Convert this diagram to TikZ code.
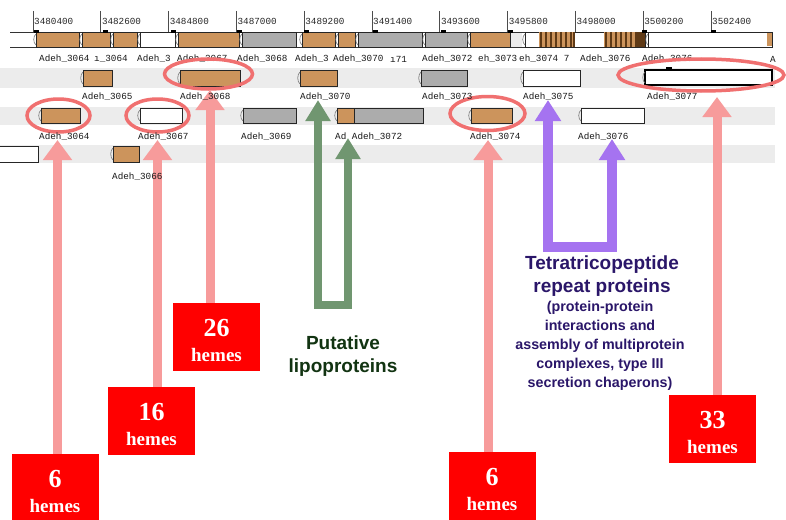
\documentclass[tikz,border=0pt]{standalone}
\usepackage{fontspec}
\setmainfont{Liberation Sans}
\newfontfamily\monof{Liberation Mono}
\newfontfamily\hfont{Liberation Serif}
\usetikzlibrary{arrows.meta,shapes.geometric}
\definecolor{genetan}{RGB}{204,148,92}
\definecolor{genegray}{RGB}{172,172,172}
\definecolor{bandgray}{RGB}{236,236,236}
\definecolor{ringred}{RGB}{240,112,112}
\definecolor{arrred}{RGB}{247,155,155}
\definecolor{boxred}{RGB}{255,0,0}
\definecolor{lipogreen}{RGB}{112,150,112}
\definecolor{tprpurple}{RGB}{165,115,240}
\definecolor{lipotext}{RGB}{18,52,18}
\definecolor{tprtext}{RGB}{42,22,105}
\definecolor{stripecol}{RGB}{95,58,22}
% gene: x1 x2 y1 y2 fill
\newcommand\gn[5]{%
  \filldraw[fill=#5,draw=black!85,line width=0.7pt] ({#1+3},#3) rectangle (#2,#4);
  \draw[black!55,line width=0.6pt] ({#1+3},{#3+2}) .. controls (#1,{#3+4}) and (#1,{#4-4}) .. ({#1+3},{#4-2});}
\newcommand\stripes[3]{% x1 x2 stripe positions
  \fill[genetan] (#1,32) rectangle (#2,47);
  \foreach \s in {#3}{\draw[stripecol,line width=1.1pt] (\s,32) -- (\s,47);}}
\begin{document}
\begin{tikzpicture}[x=1pt,y=-1pt,
  lbl/.style={font=\monof\fontsize{9.3}{10}\selectfont,text=black!90,inner sep=0pt,anchor=west},
  rul/.style={font=\monof\fontsize{9.3}{10}\selectfont,text=black!85,inner sep=0pt,anchor=west},
  ring/.style={ellipse,draw=ringred,line width=3.5pt,inner sep=0pt},
  redarr/.style={draw=arrred,line width=9pt,-{Triangle[width=28pt,length=20pt]}},
  greenarr/.style={draw=lipogreen,line width=8.5pt,line join=miter,{Triangle[width=24pt,length=21pt]}-{Triangle[width=24pt,length=21pt]}},
  purparr/.style={draw=tprpurple,line width=9.5pt,line join=miter,{Triangle[width=25pt,length=21pt]}-{Triangle[width=25pt,length=21pt]}},
  hemebox/.style={fill=boxred,minimum width=87pt,minimum height=68pt,inner sep=0pt},
  hnum/.style={font=\hfont\bfseries\fontsize{26}{26}\selectfont,text=white,inner sep=0pt},
  hword/.style={font=\hfont\bfseries\fontsize{19}{19}\selectfont,text=white,inner sep=0pt},
  lipotxt/.style={font=\bfseries\fontsize{19}{23}\selectfont,text=lipotext,align=center,inner sep=0pt},
  tprtitle/.style={font=\bfseries\fontsize{19}{23}\selectfont,text=tprtext,align=center,inner sep=0pt},
  tprsub/.style={font=\bfseries\fontsize{14.3}{19}\selectfont,text=tprtext,align=center,inner sep=0pt}]
\useasboundingbox (0,0) rectangle (786,519);
\fill[white] (0,0) rectangle (786,519);
% bands
\fill[bandgray] (0,68) rectangle (775,88);
\fill[bandgray] (0,107) rectangle (775,125);
\fill[bandgray] (0,145) rectangle (775,163);
% ruler
\foreach \i/\t in {0/3480400,1/3482600,2/3484800,3/3487000,4/3489200,5/3491400,6/3493600,7/3495800,8/3498000,9/3500200,10/3502400}{
  \pgfmathsetmacro\xx{33+67.8*\i}
  \draw[black!70,line width=0.7pt] (\xx,11) -- (\xx,32);
  \node[rul] (tick\i) at (\xx+1,21) {\t};
}
% top track
\fill[white] (10,32) rectangle (772,47);
\fill[bandgray] (508,32) rectangle (522,47);
\draw[black!80,line width=0.7pt] (10,32) -- (772,32) (10,47) -- (772,47);
\gn{33}{79}{32}{47}{genetan}
\gn{79}{110}{32}{47}{genetan}
\gn{110}{137}{32}{47}{genetan}
\gn{137}{175}{32}{47}{white}
\gn{175}{239}{32}{47}{genetan}
\gn{239}{296}{32}{47}{genegray}
\gn{299}{335}{32}{47}{genetan}
\gn{335}{355}{32}{47}{genetan}
\gn{355}{422}{32}{47}{genegray}
\gn{422}{467}{32}{47}{genegray}
\gn{467}{510}{32}{47}{genetan}
\gn{522}{645}{32}{47}{white}
\stripes{539}{575}{541,546,551,556,561,566,571,574}
\stripes{604}{637}{606,611,616,621,626,631,636}
\fill[stripecol] (637,32) rectangle (645,47);
\gn{645}{772}{32}{47}{white}
\fill[genetan] (767,33) rectangle (772,46);
\foreach \m in {34,103,171,237,304,373,441,508,642,711}{\fill[black] (\m,30.5) rectangle (\m+5,33);}
% row 1 labels
\node[lbl] (l1a) at (39,59) {Adeh\_3064};
\node[lbl] (l1b) at (94,59) {ı\_3064};
\node[lbl] (l1c) at (137,59) {Adeh\_3};
\node[lbl] (l1d) at (177,59) {Adeh\_3067};
\node[lbl] (l1e) at (237,59) {Adeh\_3068};
\node[lbl] (l1f) at (295,59) {Adeh\_3};
\node[lbl] (l1g) at (333,59) {Adeh\_3070};
\node[lbl] (l1h) at (390,59) {ı71};
\node[lbl] (l1i) at (422,59) {Adeh\_3072};
\node[lbl] (l1j) at (478,59) {eh\_3073};
\node[lbl] (l1k) at (519,59) {eh\_3074 7};
\node[lbl] (l1l) at (580,59) {Adeh\_3076};
\node[lbl] (l1m) at (642,59) {Adeh\_3076};
\node[lbl] (l1n) at (770,59) {A};
% row 2 genes
\gn{80}{112}{70}{86}{genetan}
\gn{177}{240}{70}{86}{genetan}
\gn{297}{337}{70}{86}{genetan}
\gn{418}{467}{70}{86}{genegray}
\gn{520}{580}{70}{86}{white}
\filldraw[fill=white,draw=black,line width=2pt] (645,70) rectangle (772,85);
\draw[black!55,line width=0.6pt] (645,72) .. controls (642,74) and (642,81) .. (645,83);
\fill[black] (666,67) rectangle (672,70);
% row 3 genes
\gn{38}{80}{108}{123}{genetan}
\gn{137}{182}{108}{123}{white}
\gn{240}{296}{108}{123}{genegray}
\gn{334}{423}{108}{123}{genegray}
\filldraw[fill=genetan,draw=black!85,line width=0.7pt] (337,108) rectangle (354,123);
\gn{468}{512}{108}{123}{genetan}
\gn{578}{644}{108}{123}{white}
% row 4 genes
\filldraw[fill=white,draw=black!85,line width=0.7pt] (-2,146) rectangle (38,162);
\gn{110}{139}{146}{162}{genetan}
% rings
\node[ring,minimum width=63pt,minimum height=33pt] (r3064) at (58.5,115.5) {};
\node[ring,minimum width=63pt,minimum height=33pt] (r3067) at (157.5,115.5) {};
\node[ring,minimum width=88pt,minimum height=30pt] (r3068) at (208.5,74) {};
\node[ring,minimum width=75pt,minimum height=34pt] (r3074) at (487.5,113.5) {};
\node[ring,minimum width=166pt,minimum height=32pt] (r3077) at (701,75) {};
% heme boxes
\node[hemebox] (h6a) at (55,488) {};
\node[hemebox] (h16) at (151.5,421) {};
\node[hemebox] (h26) at (216.5,337) {};
\node[hemebox] (h6b) at (492,486) {};
\node[hemebox] (h33) at (712.5,429) {};
% arrow tips
\coordinate (t6a) at (57.5,140);
\coordinate (t16) at (157.5,140);
\coordinate (t26) at (210,90);
\coordinate (t6b) at (488,140);
\coordinate (t33) at (717,97);
\draw[redarr] (h6a.north -| t6a) -- (t6a);
\draw[redarr] (h16.north -| t16) -- (t16);
\draw[redarr] (h26.north -| t26) -- (t26);
\draw[redarr] (h6b.north -| t6b) -- (t6b);
\draw[redarr] (h33.north -| t33) -- (t33);
\foreach \b/\n in {h6a/6,h16/16,h26/26,h6b/6,h33/33}{
  \node[hnum,anchor=base] (\b n) at ([yshift=-34pt]\b.north) {\n};
  \node[hword,anchor=base] (\b w) at ([yshift=-59pt]\b.north) {hemes};
}
% green U
\coordinate (gL) at (318,100);
\coordinate (gBL) at (318,305);
\coordinate (gBR) at (348,305);
\coordinate (gR) at (348,138);
\draw[greenarr] (gL) -- (gBL) -- (gBR) -- (gR);
% purple U
\coordinate (pL) at (548,100);
\coordinate (pBL) at (548,247);
\coordinate (pBR) at (612,247);
\coordinate (pR) at (612,139);
\draw[purparr] (pL) -- (pBL) -- (pBR) -- (pR);
% row 2-4 labels (over the arrows)
\node[lbl] (l2a) at (82,97) {Adeh\_3065};
\node[lbl] (l2b) at (180,97) {Adeh\_3068};
\node[lbl] (l2c) at (300,97) {Adeh\_3070};
\node[lbl] (l2d) at (422,97) {Adeh\_3073};
\node[lbl] (l2e) at (523,97) {Adeh\_3075};
\node[lbl] (l2f) at (647,97) {Adeh\_3077};
\node[lbl] (l3a) at (39,137) {Adeh\_3064};
\node[lbl] (l3b) at (138,137) {Adeh\_3067};
\node[lbl] (l3c) at (241,137) {Adeh\_3069};
\node[lbl] (l3d) at (335,137) {Ad Adeh\_3072};
\node[lbl] (l3e) at (470,137) {Adeh\_3074};
\node[lbl] (l3f) at (578,137) {Adeh\_3076};
\node[lbl] (l4a) at (112,177) {Adeh\_3066};
% texts
\node[lipotxt] (lipo) at (343,356) {Putative\\lipoproteins};
\node[tprtitle] (tpr) at (602,276) {Tetratricopeptide\\repeat proteins};
\node[tprsub] (tprs) at (600,346) {(protein-protein\\interactions and\\assembly of multiprotein\\complexes, type III\\secretion chaperons)};
\end{tikzpicture}
\end{document}
